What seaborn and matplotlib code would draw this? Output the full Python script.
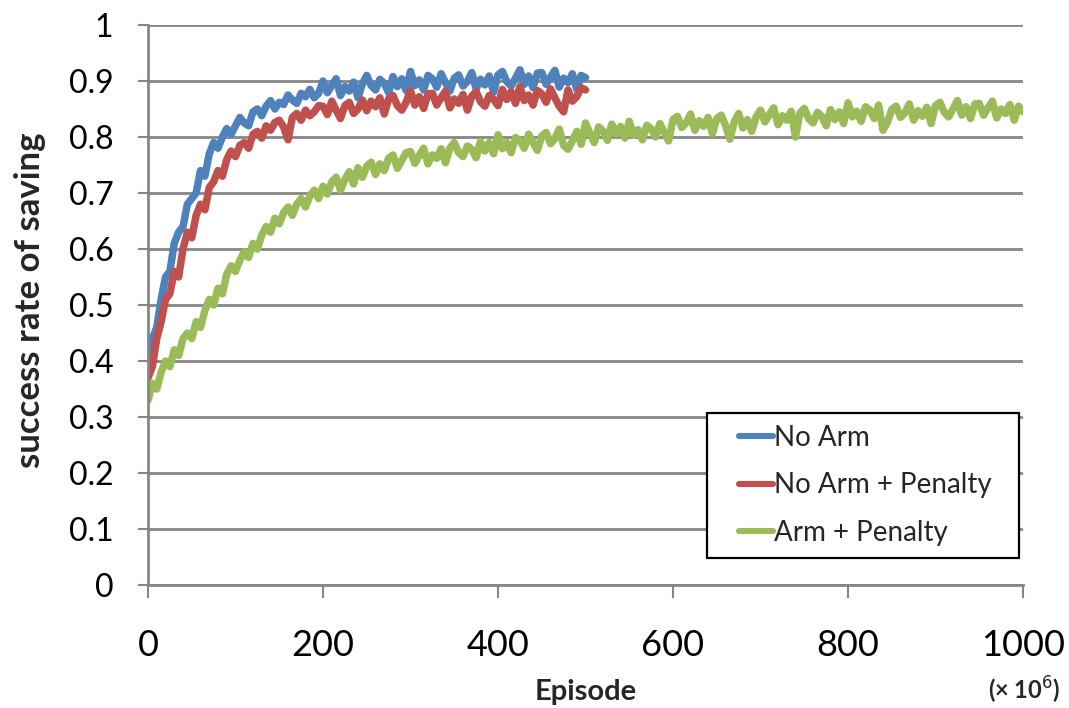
import numpy as np
import pandas as pd
import matplotlib
matplotlib.use("Agg")
import matplotlib.pyplot as plt
from matplotlib.legend_handler import HandlerBase
from matplotlib.lines import Line2D
import seaborn as sns

# ---- data: success rate of saving vs. training episode (x 10^6) ----
series_names = ["No Arm", "No Arm + Penalty", "Arm + Penalty"]
series_colors = ["#4F81BD", "#C0504D", "#9BBB59"]

episodes_short = np.arange(0, 505, 5)    # 0 .. 500
episodes_long = np.arange(0, 1005, 5)    # 0 .. 1000

no_arm = [
    0.39, 0.44, 0.46, 0.51, 0.55, 0.56, 0.61, 0.63, 0.64, 0.68,
    0.69, 0.70, 0.74, 0.73, 0.77, 0.79, 0.78, 0.80, 0.815, 0.805,
    0.82, 0.835, 0.825, 0.82, 0.845, 0.85, 0.838, 0.855, 0.865, 0.85,
    0.862, 0.858, 0.875, 0.866, 0.86, 0.878, 0.872, 0.885, 0.87, 0.878,
    0.900, 0.879, 0.892, 0.904, 0.874, 0.890, 0.882, 0.898, 0.870, 0.895,
    0.910, 0.892, 0.884, 0.903, 0.896, 0.879, 0.908, 0.890, 0.904, 0.883,
    0.917, 0.892, 0.902, 0.884, 0.910, 0.904, 0.889, 0.913, 0.897, 0.882,
    0.905, 0.911, 0.891, 0.899, 0.915, 0.886, 0.903, 0.893, 0.909, 0.880,
    0.911, 0.917, 0.899, 0.891, 0.905, 0.920, 0.894, 0.909, 0.888, 0.914,
    0.915, 0.894, 0.907, 0.919, 0.889, 0.905, 0.897, 0.913, 0.885, 0.910,
    0.906,
]

no_arm_penalty = [
    0.37, 0.39, 0.44, 0.47, 0.51, 0.52, 0.56, 0.55, 0.60, 0.63,
    0.62, 0.66, 0.68, 0.67, 0.71, 0.72, 0.74, 0.73, 0.76, 0.775,
    0.765, 0.785, 0.79, 0.78, 0.805, 0.81, 0.798, 0.82, 0.812, 0.826,
    0.83, 0.818, 0.795, 0.835, 0.842, 0.83, 0.848, 0.838, 0.845, 0.856,
    0.855, 0.840, 0.864, 0.848, 0.833, 0.856, 0.862, 0.842, 0.850, 0.866,
    0.847, 0.864, 0.854, 0.870, 0.841, 0.868, 0.874, 0.856, 0.848, 0.862,
    0.883, 0.857, 0.872, 0.851, 0.877, 0.878, 0.857, 0.870, 0.882, 0.852,
    0.868, 0.860, 0.876, 0.848, 0.873, 0.881, 0.863, 0.855, 0.874, 0.867,
    0.856, 0.885, 0.867, 0.881, 0.860, 0.890, 0.865, 0.875, 0.857, 0.883,
    0.877, 0.862, 0.886, 0.870, 0.855, 0.845, 0.884, 0.864, 0.872, 0.888,
    0.884,
]

arm_penalty = [
    0.33, 0.36, 0.35, 0.38, 0.40, 0.39, 0.42, 0.41, 0.44, 0.45,
    0.44, 0.47, 0.46, 0.49, 0.51, 0.50, 0.53, 0.52, 0.555, 0.57,
    0.56, 0.58, 0.595, 0.585, 0.61, 0.60, 0.625, 0.64, 0.63, 0.655,
    0.645, 0.665, 0.675, 0.66, 0.68, 0.69, 0.675, 0.695, 0.705, 0.69,
    0.712, 0.698, 0.72, 0.728, 0.705, 0.724, 0.738, 0.716, 0.745, 0.728,
    0.748, 0.755, 0.733, 0.752, 0.74, 0.762, 0.768, 0.744, 0.758, 0.772,
    0.774, 0.753, 0.767, 0.780, 0.752, 0.768, 0.762, 0.779, 0.754, 0.780,
    0.790, 0.772, 0.765, 0.784, 0.778, 0.763, 0.792, 0.775, 0.790, 0.770,
    0.804, 0.779, 0.790, 0.772, 0.799, 0.794, 0.780, 0.805, 0.790, 0.776,
    0.802, 0.808, 0.788, 0.797, 0.814, 0.785, 0.778, 0.793, 0.810, 0.787,
    0.825, 0.807, 0.790, 0.818, 0.811, 0.794, 0.823, 0.805, 0.819, 0.798,
    0.828, 0.803, 0.813, 0.795, 0.821, 0.815, 0.800, 0.824, 0.808, 0.793,
    0.831, 0.837, 0.817, 0.825, 0.841, 0.812, 0.829, 0.819, 0.835, 0.806,
    0.833, 0.839, 0.821, 0.796, 0.827, 0.842, 0.816, 0.831, 0.810, 0.836,
    0.848, 0.827, 0.840, 0.852, 0.822, 0.838, 0.830, 0.846, 0.800, 0.843,
    0.851, 0.833, 0.825, 0.844, 0.837, 0.820, 0.849, 0.831, 0.845, 0.824,
    0.861, 0.836, 0.846, 0.828, 0.854, 0.848, 0.833, 0.857, 0.812, 0.826,
    0.849, 0.855, 0.835, 0.843, 0.859, 0.830, 0.847, 0.837, 0.853, 0.824,
    0.856, 0.862, 0.844, 0.836, 0.850, 0.865, 0.839, 0.854, 0.833, 0.859,
    0.860, 0.839, 0.852, 0.864, 0.834, 0.850, 0.842, 0.858, 0.830, 0.855,
    0.845,
]

x_ticks = [0, 200, 400, 600, 800, 1000]
y_ticks = [0, 0.1, 0.2, 0.3, 0.4, 0.5, 0.6, 0.7, 0.8, 0.9, 1]
y_tick_labels = ["0", "0.1", "0.2", "0.3", "0.4", "0.5", "0.6", "0.7", "0.8", "0.9", "1"]

assert len(no_arm) == len(episodes_short)
assert len(no_arm_penalty) == len(episodes_short)
assert len(arm_penalty) == len(episodes_long)

df = pd.concat([
    pd.DataFrame({"episode": episodes_short, "rate": no_arm, "series": series_names[0]}),
    pd.DataFrame({"episode": episodes_short, "rate": no_arm_penalty, "series": series_names[1]}),
    pd.DataFrame({"episode": episodes_long, "rate": arm_penalty, "series": series_names[2]}),
], ignore_index=True)


class InsetLineHandler(HandlerBase):
    """Legend key drawn as a short line in the right part of the handle slot."""

    def __init__(self, start_frac=0.4, **kw):
        super().__init__(**kw)
        self.start_frac = start_frac

    def create_artists(self, legend, orig_handle, xdescent, ydescent,
                       width, height, fontsize, trans):
        y = height / 2 - ydescent
        ln = Line2D([width * self.start_frac - xdescent, width - xdescent], [y, y])
        ln.set_color(orig_handle.get_color())
        ln.set_linewidth(orig_handle.get_linewidth())
        ln.set_solid_capstyle("round")
        ln.set_transform(trans)
        return [ln]


# ---- style ----
sns.set_style("white")
plt.rcParams["font.family"] = ["Lato", "DejaVu Sans"]

grid_grey = "#868686"
line_w = 5.4

fig = plt.figure(figsize=(10.69, 7.08), dpi=100)
ax = fig.add_axes([148 / 1069, 1 - 585 / 708, 875 / 1069, 560 / 708])

sns.lineplot(
    data=df, x="episode", y="rate", hue="series",
    hue_order=series_names, palette=series_colors,
    linewidth=line_w, errorbar=None, ax=ax, legend=True,
)
for ln in ax.get_lines():
    ln.set_solid_joinstyle("round")
    ln.set_solid_capstyle("round")

ax.set_xlim(0, 1000)
ax.set_ylim(0, 1)
ax.set_xticks(x_ticks)
ax.set_xticklabels([str(t) for t in x_ticks])
ax.set_yticks(y_ticks)
ax.set_yticklabels(y_tick_labels)

# horizontal gridlines only
ax.yaxis.grid(True, color=grid_grey, linewidth=2)
ax.xaxis.grid(False)
ax.set_axisbelow(True)

for side in ["top", "right"]:
    ax.spines[side].set_visible(False)
for side in ["left", "bottom"]:
    ax.spines[side].set_color(grid_grey)
    ax.spines[side].set_linewidth(2)

ax.tick_params(axis="y", direction="out", length=7, width=1.5, color=grid_grey,
               pad=18, labelsize=23, labelcolor="black", left=True)
ax.tick_params(axis="x", direction="out", length=9, width=1.5, color=grid_grey,
               pad=23, labelsize=26, labelcolor="black", bottom=True)

ax.set_xlabel("")
ax.set_ylabel("")
fig.text(30 / 1069, 1 - 300 / 708, "success rate of saving", rotation=90,
         ha="center", va="center", fontsize=25, fontweight="bold")
fig.text(586 / 1069, 1 - 692 / 708, "Episode", ha="center", va="center",
         fontsize=21, fontweight="bold")
fig.text(1024 / 1069, 1 - 690 / 708, "(× 10$^{6}$)", ha="center", va="center",
         fontsize=17, fontweight="bold")

# legend in a black-bordered box at the lower right
handles, labels = ax.get_legend_handles_labels()
for h in handles:
    h.set_linewidth(4.4)
leg = ax.legend(
    handles, labels, loc="upper left",
    bbox_to_anchor=(0.639, 0.052, 0.356, 0.255), mode="expand",
    fontsize=20, frameon=True, fancybox=False, borderaxespad=0,
    handlelength=1.95, handletextpad=0.05, labelspacing=0.78,
    borderpad=0.42,
    handler_map={Line2D: InsetLineHandler(start_frac=0.38)},
)
leg.get_frame().set_edgecolor("black")
leg.get_frame().set_linewidth(1.6)
leg.get_frame().set_alpha(1)

fig.savefig("out.png", dpi=100)
